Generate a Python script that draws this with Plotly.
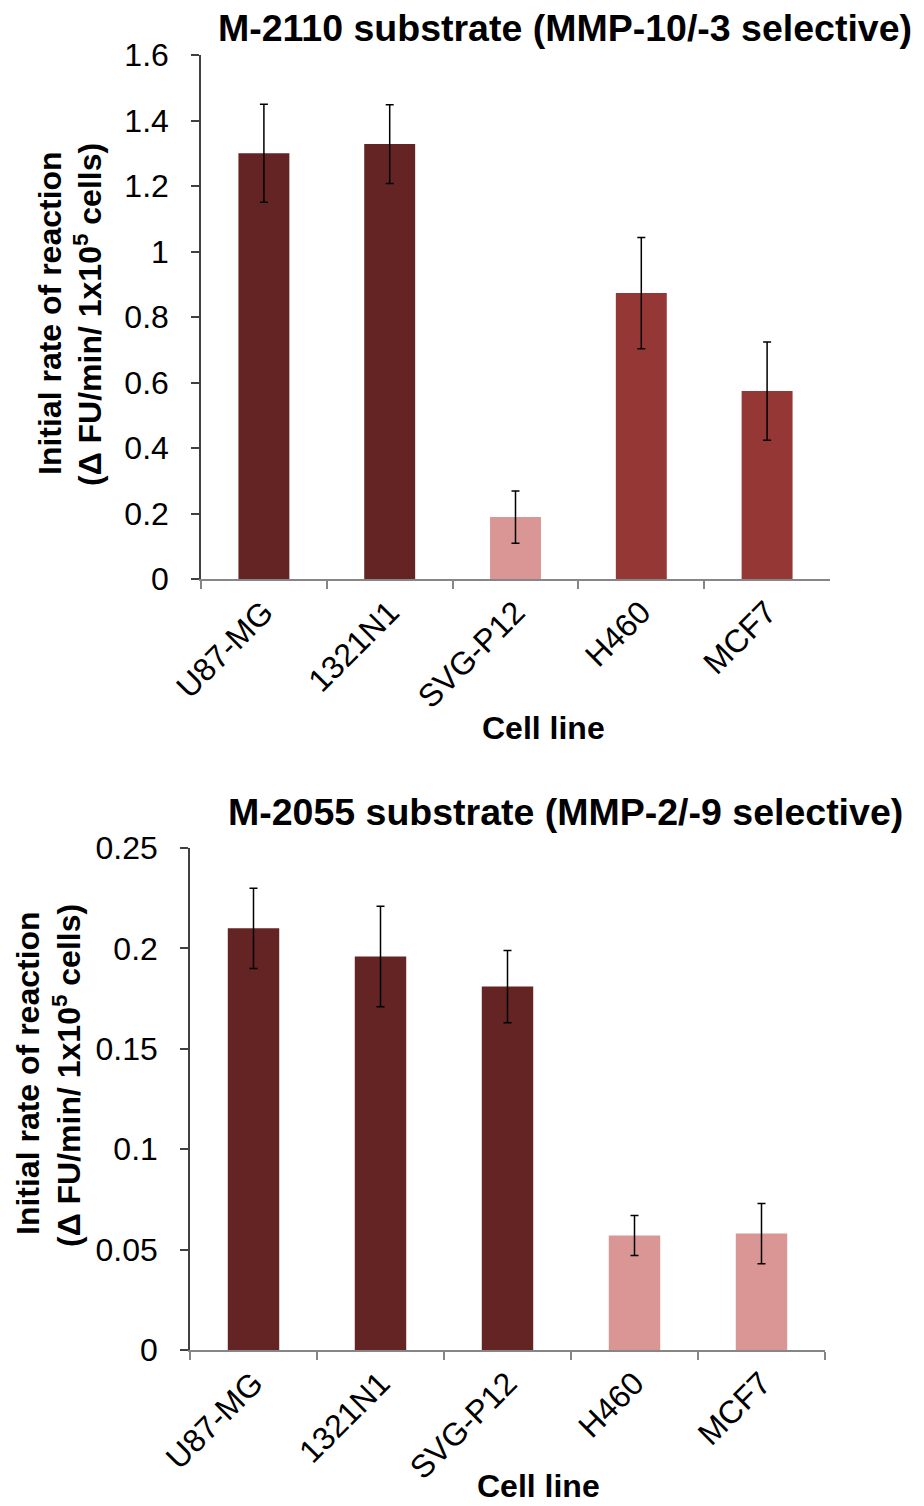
import plotly.graph_objects as go

# ---------------- data ----------------
cell_lines = ["U87-MG", "1321N1", "SVG-P12", "H460", "MCF7"]

m2110_values = [1.30, 1.328, 0.189, 0.873, 0.574]
m2110_errors = [0.15, 0.12, 0.08, 0.17, 0.15]
m2110_colors = ["#632423", "#632423", "#D99694", "#953735", "#953735"]

m2055_values = [0.210, 0.196, 0.181, 0.057, 0.058]
m2055_errors = [0.020, 0.025, 0.018, 0.010, 0.015]
m2055_colors = ["#632423", "#632423", "#632423", "#D99694", "#D99694"]

top_title = "M-2110 substrate (MMP-10/-3 selective)"
bottom_title = "M-2055 substrate (MMP-2/-9 selective)"
y_title_1 = "Initial rate of reaction"
y_title_2 = "(Δ FU/min/ 1x10<sup>5</sup> cells)"
x_title = "Cell line"

# ---------------- layout helpers ----------------
W, H = 924, 1506
FONT = "Liberation Sans, Arial, sans-serif"


def px_x(p):
    return p / W


def px_y(p):
    return 1 - p / H


fig = go.Figure()

fig.add_trace(go.Bar(
    x=cell_lines, y=m2110_values, marker_color=m2110_colors,
    marker_line_width=0,
    error_y=dict(type="data", array=m2110_errors, color="black",
                 thickness=1.5, width=4),
    xaxis="x", yaxis="y", showlegend=False,
))

fig.add_trace(go.Bar(
    x=cell_lines, y=m2055_values, marker_color=m2055_colors,
    marker_line_width=0,
    error_y=dict(type="data", array=m2055_errors, color="black",
                 thickness=1.5, width=4),
    xaxis="x2", yaxis="y2", showlegend=False,
))

xaxis_common = dict(
    type="category", showline=True, linecolor="#868686", linewidth=1.5,
    ticks="outside", tickson="boundaries", ticklen=8, tickcolor="#868686",
    tickwidth=1.5, tickangle=-45, showgrid=False, zeroline=False,
    automargin=False,
    tickfont=dict(family=FONT, size=32, color="black"),
)
yaxis_common = dict(
    showline=True, linecolor="#404040", linewidth=1.5,
    ticks="outside", ticklen=8, tickcolor="#404040", tickwidth=1.5,
    showgrid=False, zeroline=False, ticklabelstandoff=16,
    automargin=False,
    tickfont=dict(family=FONT, size=32, color="black"),
)

fig.update_layout(
    template="none",
    width=W, height=H,
    margin=dict(l=0, r=0, t=0, b=0, autoexpand=False),
    paper_bgcolor="white", plot_bgcolor="white",
    bargap=0.595,
    xaxis=dict(xaxis_common, domain=[px_x(201), px_x(830)], anchor="y"),
    yaxis=dict(yaxis_common, domain=[px_y(579), px_y(55)], range=[0, 1.6],
               dtick=0.2, tick0=0, anchor="x"),
    xaxis2=dict(xaxis_common, domain=[px_x(190), px_x(825)], anchor="y2"),
    yaxis2=dict(yaxis_common, domain=[px_y(1350), px_y(848)], range=[0, 0.25],
                dtick=0.05, tick0=0, anchor="x2"),
)

annotations = [
    # titles
    dict(text="<b>" + top_title + "</b>", x=px_x(565), y=px_y(28),
         font=dict(family=FONT, size=37.5, color="black")),
    dict(text="<b>" + bottom_title + "</b>", x=px_x(565), y=px_y(812),
         font=dict(family=FONT, size=37.5, color="black")),
    # x titles
    dict(text="<b>" + x_title + "</b>", x=px_x(543), y=px_y(728),
         font=dict(family=FONT, size=32, color="black")),
    dict(text="<b>" + x_title + "</b>", x=px_x(538), y=px_y(1486),
         font=dict(family=FONT, size=32, color="black")),
    # y titles (top)
    dict(text="<b>" + y_title_1 + "</b>", x=px_x(50), y=px_y(313),
         textangle=-90, font=dict(family=FONT, size=32, color="black")),
    dict(text="<b>" + y_title_2 + "</b>", x=px_x(88), y=px_y(315),
         textangle=-90, font=dict(family=FONT, size=32, color="black")),
    # y titles (bottom)
    dict(text="<b>" + y_title_1 + "</b>", x=px_x(28), y=px_y(1073),
         textangle=-90, font=dict(family=FONT, size=32, color="black")),
    dict(text="<b>" + y_title_2 + "</b>", x=px_x(67), y=px_y(1076),
         textangle=-90, font=dict(family=FONT, size=32, color="black")),
]
for a in annotations:
    a.update(xref="paper", yref="paper", xanchor="center", yanchor="middle",
             showarrow=False)
fig.update_layout(annotations=annotations)

fig.write_html("out.html")
